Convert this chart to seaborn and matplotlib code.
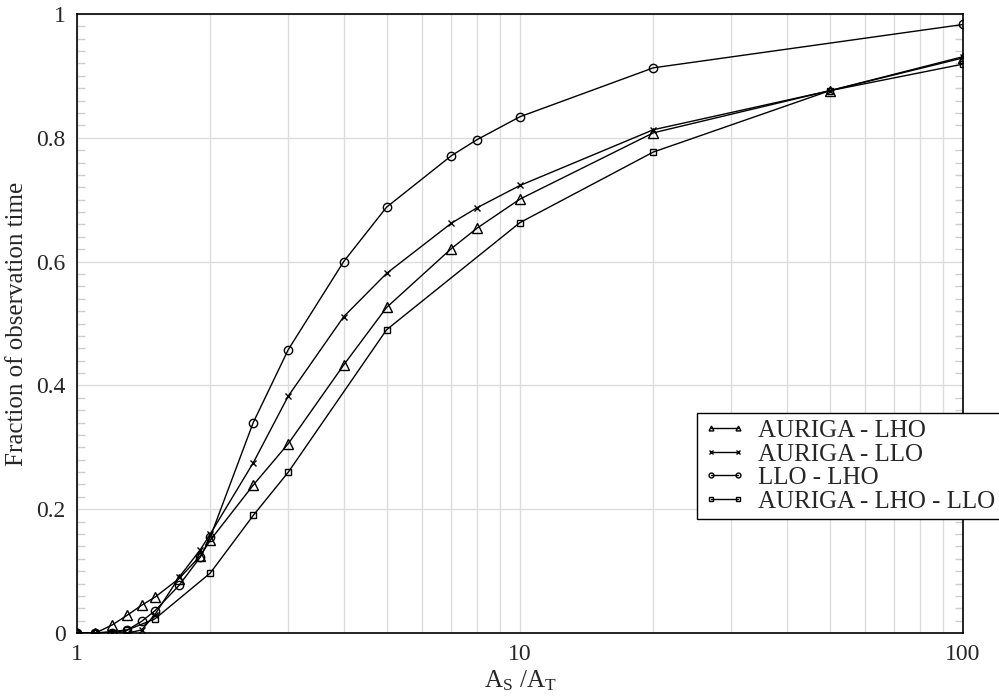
import matplotlib as mpl
mpl.use('Agg')

import matplotlib.pyplot as plt
from matplotlib.ticker import FuncFormatter, MultipleLocator, LogLocator, NullFormatter
import seaborn as sns

tri_x = [1, 1.1, 1.2, 1.3, 1.4, 1.5, 1.7, 1.9, 2, 2.5, 3, 4, 5, 7, 8, 10, 20, 50, 100]
tri_y = [0, 0, 0.013, 0.029, 0.045, 0.058, 0.088, 0.125, 0.150, 0.239, 0.306, 0.433,
         0.526, 0.621, 0.654, 0.701, 0.808, 0.876, 0.929]

x_x = [1, 1.1, 1.2, 1.3, 1.4, 1.5, 1.7, 1.9, 2, 2.5, 3, 4, 5, 7, 8, 10, 20, 50, 100]
x_y = [0, 0, 0, 0, 0.005, 0.030, 0.090, 0.135, 0.160, 0.275, 0.383, 0.511,
       0.581, 0.662, 0.687, 0.723, 0.813, 0.876, 0.931]

circ_x = [1, 1.1, 1.2, 1.3, 1.4, 1.5, 1.7, 1.9, 2, 2.5, 3, 4, 5, 7, 8, 10, 20, 100]
circ_y = [0, 0, 0, 0.005, 0.019, 0.036, 0.077, 0.123, 0.155, 0.340, 0.458, 0.600,
          0.688, 0.771, 0.797, 0.834, 0.913, 0.983]

sq_x = [1, 1.1, 1.3, 1.5, 2, 2.5, 3, 5, 10, 20, 50, 100]
sq_y = [0, 0, 0.005, 0.023, 0.097, 0.190, 0.260, 0.490, 0.663, 0.777, 0.876, 0.919]

series = [
    ('AURIGA - LHO', tri_x, tri_y, '^', 6.5),
    ('AURIGA - LLO', x_x, x_y, 'x', 4.5),
    ('LLO - LHO', circ_x, circ_y, 'o', 6.0),
    ('AURIGA - LHO - LLO', sq_x, sq_y, 's', 5.0),
]


def main():
    sns.set_style('white')
    plt.rcParams['font.family'] = ['Liberation Serif', 'DejaVu Serif']
    plt.rcParams['mathtext.fontset'] = 'custom'
    plt.rcParams['mathtext.rm'] = 'Liberation Serif'

    fig = plt.figure(figsize=(9.99, 6.98), dpi=100)
    ax = fig.add_axes([0.077, 0.093, 0.887, 0.887])

    for label, xs, ys, mk, ms in series:
        sns.lineplot(x=xs, y=ys, ax=ax, color='k', linewidth=1.0, marker=mk,
                     markersize=ms, markerfacecolor='none', markeredgecolor='k',
                     markeredgewidth=1.0, label=label)

    ax.set_xscale('log')
    ax.set_xlim(1, 100)
    ax.set_ylim(0, 1)

    ax.xaxis.set_major_locator(LogLocator(base=10))
    ax.xaxis.set_minor_locator(LogLocator(base=10, subs=range(2, 10)))
    ax.xaxis.set_minor_formatter(NullFormatter())
    ax.xaxis.set_major_formatter(FuncFormatter(lambda v, p: '{:g}'.format(v)))
    ax.yaxis.set_major_locator(MultipleLocator(0.2))
    ax.yaxis.set_minor_locator(MultipleLocator(0.02))
    ax.yaxis.set_major_formatter(FuncFormatter(lambda v, p: '{:g}'.format(round(v, 2))))

    ax.grid(True, which='major', axis='both', color='#dcdcdc', linewidth=1.0)
    ax.grid(True, which='minor', axis='x', color='#dcdcdc', linewidth=1.0)

    ax.tick_params(axis='x', which='major', direction='in', length=12, width=1.0,
                   color='k', labelsize=17, pad=8, top=False)
    ax.tick_params(axis='x', which='minor', length=0)
    ax.tick_params(axis='y', which='major', direction='in', length=0,
                   labelsize=17, pad=8)
    ax.tick_params(axis='y', which='minor', direction='in', length=6, width=1.0,
                   color='#cfcfcf', left=True, right=True)

    for sp in ax.spines.values():
        sp.set_color('k')
        sp.set_linewidth(1.2)

    ax.set_xlabel(r'$\mathrm{A_S\;/A_T}$', fontsize=18, labelpad=2)
    ax.set_ylabel('Fraction of observation time', fontsize=18, labelpad=6)

    leg = ax.legend(loc='upper left', bbox_to_anchor=(0.70, 0.355), fontsize=18,
                    frameon=True, fancybox=False, edgecolor='k', framealpha=1,
                    numpoints=2, handlelength=1.7, handletextpad=0.5,
                    labelspacing=0.04, borderpad=0.25, borderaxespad=0)
    leg.get_frame().set_linewidth(1.0)
    for h in leg.legend_handles:
        h.set_markersize(3.5)
    leg.set_clip_on(False)

    plt.savefig('out.png', dpi=100)


if __name__ == '__main__':
    main()
